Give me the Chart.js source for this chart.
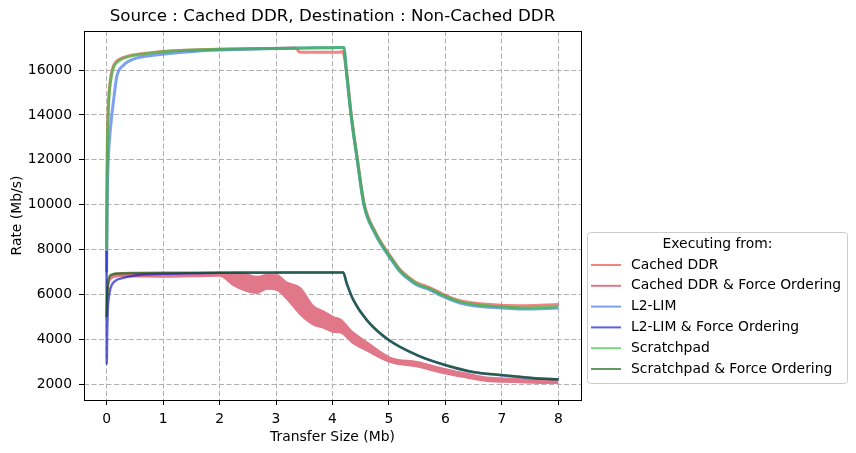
<!DOCTYPE html>
<html>
<head>
<meta charset="utf-8">
<script src="https://cdn.jsdelivr.net/npm/chart.js@4"></script>
<style>
  html, body { margin: 0; padding: 0; background: #fff; }
  canvas { display: block; }
</style>
</head>
<body>
<canvas id="chart" width="856" height="453"></canvas>
<script>
// Tick labels
const xTicks = [0, 1, 2, 3, 4, 5, 6, 7, 8];
const yTicks = [2000, 4000, 6000, 8000, 10000, 12000, 14000, 16000];

const seriesNames = ['Cached DDR', 'Cached DDR & Force Ordering', 'L2-LIM',
  'L2-LIM & Force Ordering', 'Scratchpad', 'Scratchpad & Force Ordering'];

// Cached DDR
const cdX = [0, 0.008, 0.015, 0.025, 0.04, 0.065, 0.106, 0.166, 0.26, 0.39, 0.74, 1.16, 1.6, 2.0, 2.5, 3.0, 3.35, 3.42, 3.8, 4.1, 4.18, 4.245, 4.33, 4.44, 4.56, 4.76, 4.93, 5.05, 5.2, 5.32, 5.49, 5.73, 5.95, 6.26, 6.5, 7.0, 7.4, 8.0];
const cdY = [8000, 11200, 13000, 13950, 14850, 15500, 16080, 16360, 16520, 16630, 16760, 16860, 16905, 16930, 16950, 16965, 16980, 16800, 16790, 16800, 16820, 16000, 14050, 12050, 10050, 8780, 8050, 7620, 7100, 6830, 6530, 6300, 6020, 5720, 5620, 5520, 5500, 5550];

// Cached DDR & Force Ordering (noisy band: upper and lower edge)
const cdfoX = [0, 0.01, 0.03, 0.08, 0.2, 0.5, 1.0, 1.5, 2.0, 2.25, 2.42, 2.66, 2.84, 3.02, 3.19, 3.43, 3.66, 3.85, 4.02, 4.14, 4.35, 4.6, 5.02, 5.5, 5.96, 6.35, 6.73, 7.2, 7.56, 8.0];
const cdfoHi = [5000, 5900, 6450, 6850, 6950, 6960, 6960, 6960, 6960, 6950, 6940, 6800, 6880, 6870, 6550, 6300, 5500, 5250, 5000, 4900, 4350, 3900, 3200, 3000, 2710, 2500, 2310, 2260, 2210, 2180];
const cdfoLo = [5000, 5800, 6350, 6700, 6800, 6790, 6780, 6800, 6820, 6400, 6200, 6060, 6250, 6190, 5800, 5100, 4650, 4500, 4320, 4300, 3850, 3500, 2980, 2780, 2490, 2300, 2140, 2090, 2060, 2045];

// L2-LIM
const l2X = [0, 0.01, 0.03, 0.055, 0.083, 0.124, 0.18, 0.3, 0.51, 0.86, 1.2, 1.6, 2.0, 2.5, 3.0, 3.5, 4.0, 4.2, 4.245, 4.33, 4.44, 4.56, 4.76, 4.93, 5.05, 5.2, 5.32, 5.49, 5.73, 5.95, 6.26, 6.5, 7.0, 7.4, 8.0];
const l2Y = [7000, 10000, 12000, 13000, 13770, 14660, 15700, 16220, 16520, 16670, 16760, 16840, 16890, 16930, 16960, 16985, 17000, 17010, 15950, 13950, 11950, 9950, 8680, 7950, 7520, 7000, 6730, 6430, 6200, 5920, 5620, 5500, 5400, 5350, 5400];

// L2-LIM & Force Ordering
const l2foX = [0, 0.002, 0.01, 0.02, 0.04, 0.07, 0.15, 0.28, 0.5, 1.0, 1.5, 2.0, 3.0, 4.0, 4.19, 4.25, 4.37, 4.61, 5.0, 5.5, 6.0, 6.5, 7.0, 7.56, 8.0];
const l2foY = [7950, 2900, 4300, 5300, 5900, 6300, 6600, 6730, 6850, 6920, 6950, 6965, 6975, 6980, 6980, 6500, 5750, 4850, 3960, 3290, 2850, 2540, 2400, 2270, 2230];

// Scratchpad
const spX = [0, 0.008, 0.015, 0.025, 0.04, 0.065, 0.106, 0.166, 0.26, 0.39, 0.74, 1.16, 1.6, 2.0, 2.5, 3.0, 3.5, 4.0, 4.2, 4.245, 4.33, 4.44, 4.56, 4.76, 4.93, 5.05, 5.2, 5.32, 5.49, 5.73, 5.95, 6.26, 6.5, 7.0, 7.4, 8.0];
const spY = [8000, 11000, 12800, 13770, 14700, 15400, 16000, 16300, 16480, 16600, 16745, 16850, 16900, 16925, 16950, 16965, 16985, 17000, 17010, 16000, 14000, 12000, 10000, 8730, 8000, 7570, 7050, 6780, 6480, 6250, 5970, 5670, 5560, 5450, 5400, 5460];

// Scratchpad & Force Ordering
const spfoX = [0, 0.01, 0.025, 0.05, 0.1, 0.2, 0.5, 1.0, 2.0, 3.0, 4.0, 4.19, 4.25, 4.37, 4.61, 5.0, 5.5, 6.0, 6.5, 7.0, 7.56, 8.0];
const spfoY = [5000, 5900, 6500, 6800, 6900, 6940, 6960, 6970, 6975, 6980, 6980, 6980, 6520, 5760, 4860, 3970, 3300, 2860, 2550, 2410, 2280, 2220];

const colors = ['rgba(235,80,80,0.7)', 'rgb(224,120,137)', 'rgba(80,130,235,0.75)',
  'rgba(30,30,200,0.7)', 'rgba(50,190,60,0.65)', 'rgba(0,90,0,0.62)'];

const FONT = "'DejaVu Sans', sans-serif";

function pts(xs, ys) {
  return xs.map((x, i) => ({ x: x, y: ys[i] }));
}

function line(label, xs, ys, color, width, order) {
  return {
    label: label, data: pts(xs, ys), borderColor: color, backgroundColor: color,
    borderWidth: width, pointRadius: 0, fill: false,
    cubicInterpolationMode: 'monotone', order: order
  };
}

const bandLow = line(seriesNames[1] + ' low', cdfoX, cdfoLo, colors[1], 1.5, 8);
bandLow.fill = '-1';

// box around the plot + outside legend, matplotlib style
const framePlugin = {
  id: 'frame',
  afterDraw(chart) {
    const ctx = chart.ctx, a = chart.chartArea;
    ctx.save();
    ctx.strokeStyle = '#000';
    ctx.lineWidth = 1;
    ctx.strokeRect(Math.round(a.left) + 0.5, Math.round(a.top) + 0.5,
      Math.round(a.right - a.left), Math.round(a.bottom - a.top));

    // legend
    const lx = 587.5, ly = 232.5, lw = 260, lh = 151;
    ctx.beginPath();
    ctx.roundRect(lx, ly, lw, lh, 3);
    ctx.fillStyle = 'rgba(255,255,255,0.8)';
    ctx.fill();
    ctx.strokeStyle = '#cccccc';
    ctx.stroke();
    ctx.fillStyle = '#000';
    ctx.font = '13.9px ' + FONT;
    ctx.textBaseline = 'middle';
    ctx.textAlign = 'center';
    ctx.fillText('Executing from:', lx + lw / 2, 244);
    ctx.textAlign = 'left';
    seriesNames.forEach((name, i) => {
      const y = 265 + i * 20.8;
      ctx.strokeStyle = colors[i];
      ctx.lineWidth = 2;
      ctx.beginPath();
      ctx.moveTo(591, y);
      ctx.lineTo(621, y);
      ctx.stroke();
      ctx.fillStyle = '#000';
      ctx.fillText(name, 631, y);
    });
    ctx.restore();
  }
};

new Chart(document.getElementById('chart'), {
  type: 'line',
  data: {
    datasets: [
      line(seriesNames[0], cdX, cdY, colors[0], 3, 10),
      line(seriesNames[1], cdfoX, cdfoHi, colors[1], 1.5, 9),
      bandLow,
      line(seriesNames[2], l2X, l2Y, colors[2], 3, 7),
      line(seriesNames[3], l2foX, l2foY, colors[3], 2.5, 6),
      line(seriesNames[4], spX, spY, colors[4], 3, 5),
      line(seriesNames[5], spfoX, spfoY, colors[5], 2.5, 4)
    ]
  },
  options: {
    responsive: false,
    animation: false,
    devicePixelRatio: 1,
    layout: { padding: { left: 0, right: 275, top: 0, bottom: 0 } },
    plugins: {
      legend: { display: false },
      tooltip: { enabled: false },
      title: {
        display: true, fullSize: false,
        text: 'Source : Cached DDR, Destination : Non-Cached DDR',
        color: '#000', font: { family: FONT, size: 16.7, weight: 'normal' },
        padding: { top: 7, bottom: 4 }
      }
    },
    scales: {
      x: {
        type: 'linear', min: -0.4, max: 8.4,
        afterBuildTicks: s => { s.ticks = xTicks.map(v => ({ value: v })); },
        afterFit: s => { s.height = 53; },
        grid: { color: '#b0b0b0', lineWidth: 1, tickColor: '#000', tickLength: 5, tickWidth: 1 },
        border: { display: false, dash: [5, 2.5] },
        ticks: { color: '#000', font: { family: FONT, size: 13.9 }, padding: 6, maxRotation: 0, autoSkip: false, callback: v => String(v) },
        title: { display: true, text: 'Transfer Size (Mb)', color: '#000', font: { family: FONT, size: 13.9 }, padding: { top: 0, bottom: 7 } }
      },
      y: {
        min: 1300, max: 17740,
        afterBuildTicks: s => { s.ticks = yTicks.map(v => ({ value: v })); },
        afterFit: s => { s.width = 84; },
        grid: { color: '#b0b0b0', lineWidth: 1, tickColor: '#000', tickLength: 5, tickWidth: 1 },
        border: { display: false, dash: [5, 2.5] },
        ticks: { color: '#000', font: { family: FONT, size: 13.9 }, padding: 7, autoSkip: false, callback: v => String(v) },
        title: { display: true, text: 'Rate (Mb/s)', color: '#000', font: { family: FONT, size: 13.9 }, padding: { top: 9, bottom: 0 } }
      }
    }
  },
  plugins: [framePlugin]
});
</script>
</body>
</html>
